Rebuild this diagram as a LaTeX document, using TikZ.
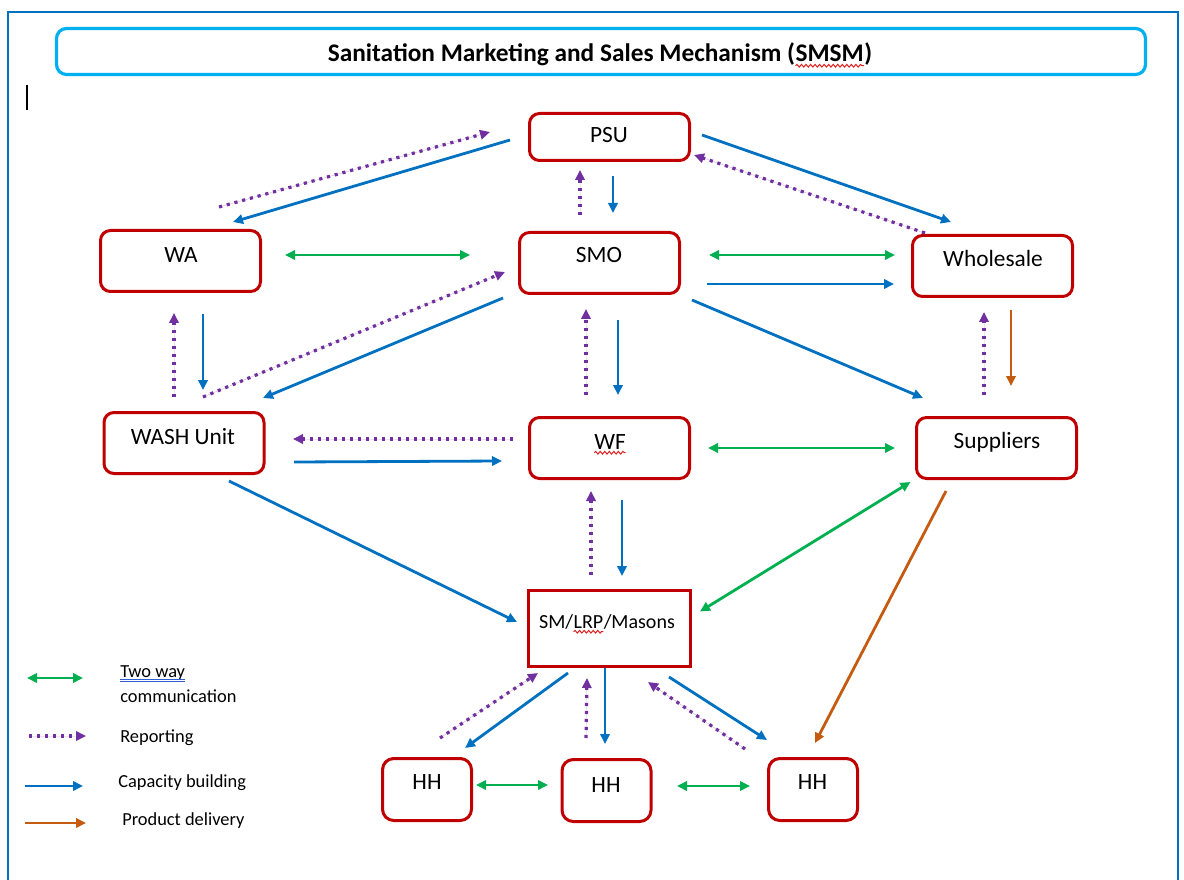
\documentclass[tikz,border=0pt]{standalone}
\usepackage{fontspec}
\setmainfont{Carlito}
\usetikzlibrary{arrows.meta,decorations.pathmorphing}

\definecolor{boxred}{HTML}{C00000}
\definecolor{capblue}{HTML}{0070C0}
\definecolor{reppurple}{HTML}{7030A0}
\definecolor{twgreen}{HTML}{00B050}
\definecolor{delorange}{HTML}{C55A11}
\definecolor{titleblue}{HTML}{00B0F0}
\definecolor{spellred}{HTML}{E02020}
\definecolor{ulblue}{HTML}{3060D0}

% word with a wavy red underline
\newcommand\wavy[1]{\tikz[baseline=(wv.base)]{\node[inner sep=0pt,outer sep=0pt] (wv) {#1};
  \draw[spellred,line width=0.75pt,decorate,decoration={snake,amplitude=1pt,segment length=3.4pt}]
  ([yshift=-2.8pt]wv.base west) -- ([yshift=-2.8pt]wv.base east);}}

\tikzset{
  headtip/.tip={Triangle[length=7.5pt,width=7pt]},
  box/.style={draw=boxred, line width=2.25pt, rounded corners=7.5pt, inner sep=0pt,
    minimum width=120pt, minimum height=45.75pt},
  psubox/.style={box, minimum height=35.25pt},
  smbox/.style={box, sharp corners, minimum width=121.5pt, minimum height=57pt},
  hhbox/.style={box, rounded corners=8.5pt, minimum width=66.75pt, minimum height=46.5pt},
  lbl/.style={anchor=base, inner sep=0pt, font=\fontsize{17.5}{21}\selectfont},
  smlbl/.style={lbl, font=\fontsize{15}{18}\selectfont},
  legtxt/.style={anchor=base west, inner sep=0pt, font=\fontsize{13.8}{16}\selectfont},
  capline/.style={draw=capblue, line width=2.1pt, -headtip, fill=capblue},
  repline/.style={draw=reppurple, line width=2.4pt, dash pattern=on 2.4pt off 3.6pt, -headtip, fill=reppurple},
  twoline/.style={draw=twgreen, line width=2.1pt, headtip-headtip, fill=twgreen},
  delline/.style={draw=delorange, line width=2.1pt, -headtip, fill=delorange},
}

\begin{document}
\begin{tikzpicture}[x=0.75pt,y=-0.75pt]
\useasboundingbox (0,0) rectangle (1184,880);

% page frame and text cursor
\draw[capblue, line width=2.2pt] (8,880) -- (8,12) -- (1178,12) -- (1178,880);
\draw[black, line width=1.1pt] (27,85) -- (27,110);

% title
\node[draw=titleblue, line width=2.4pt, rounded corners=7.5pt, minimum width=816.75pt,
  minimum height=34.5pt, inner sep=0pt] (title) at (601,51.5) {};
\node[anchor=base, inner sep=0pt, font=\fontsize{19}{22}\selectfont\bfseries] (title-t)
  at (600,62) {Sanitation Marketing and Sales Mechanism (\wavy{SMSM})};

% actors
\node[psubox] (psu) at (609.5,137) {};
\node[box] (wa)  at (180.5,261) {};
\node[box] (smo) at (599.5,263) {};
\node[box] (whs) at (992.5,266) {};
\node[box] (wash) at (184,443) {};
\node[box] (wf)  at (609.5,448) {};
\node[box] (sup) at (996.5,448) {};
\node[smbox] (sm) at (609.5,628.5) {};
\node[hhbox] (hh1) at (427,789.5) {};
\node[hhbox] (hh2) at (606.5,790.5) {};
\node[hhbox] (hh3) at (813,789.5) {};

\node[lbl] (psu-t) at (609,143) {PSU};
\node[lbl] (wa-t) at (181,263) {WA};
\node[lbl] (smo-t) at (599,263) {SMO};
\node[lbl] (whs-t) at (993,267) {Wholesale};
\node[lbl] (wash-t) at (183,444) {WASH Unit};
\node[lbl] (wf-t) at (610,449) {\wavy{WF}};
\node[lbl] (sup-t) at (997,448) {Suppliers};
\node[smlbl] (sm-t) at (607,628) {SM/\wavy{LRP}/Masons};
\node[lbl] (hh1-t) at (427,789) {HH};
\node[lbl] (hh2-t) at (606,792) {HH};
\node[lbl] (hh3-t) at (812.5,789) {HH};

% capacity building
\draw[capline] ([shift={(-99.5,3)}]psu.center) -- ([shift={(52.5,-39)}]wa.center);
\draw[capline] ([shift={(3.5,39)}]psu.center) -- ([shift={(13.5,-50)}]smo.center);
\draw[capline] ([shift={(92.5,-2)}]psu.center) -- ([shift={(-41.5,-44)}]whs.center);
\draw[capline] ([shift={(107.5,21)}]smo.center) -- ([shift={(-98.5,18)}]whs.center);
\draw[capline] ([shift={(-96.5,35)}]smo.center) -- ([shift={(79,-45)}]wash.center);
\draw[capline] ([shift={(18.5,57)}]smo.center) -- ([shift={(8.5,-53)}]wf.center);
\draw[capline] ([shift={(92.5,37)}]smo.center) -- ([shift={(-73.5,-50)}]sup.center);
\draw[capline] ([shift={(22.5,53)}]wa.center) -- ([shift={(19,-53)}]wash.center);
\draw[capline] ([shift={(110,19)}]wash.center) -- ([shift={(-107.5,13)}]wf.center);
\draw[capline] ([shift={(45,38)}]wash.center) -- ([shift={(-92.5,-6.5)}]sm.center);
\draw[capline] ([shift={(12.5,52)}]wf.center) -- ([shift={(12.5,-52.5)}]sm.center);
\draw[capline] ([shift={(-41.5,44.5)}]sm.center) -- ([shift={(38,-41.5)}]hh1.center);
\draw[capline] ([shift={(-4.5,39.5)}]sm.center) -- ([shift={(-1.5,-46.5)}]hh2.center);
\draw[capline] ([shift={(59.5,48.5)}]sm.center) -- ([shift={(-46,-49.5)}]hh3.center);

% reporting
\draw[repline] ([shift={(38.5,-54)}]wa.center) -- ([shift={(-119.5,-5)}]psu.center);
\draw[repline] ([shift={(-19.5,-48)}]smo.center) -- ([shift={(-29.5,33)}]psu.center);
\draw[repline] ([shift={(-67.5,-33)}]whs.center) -- ([shift={(84.5,18)}]psu.center);
\draw[repline] ([shift={(-10,-46)}]wash.center) -- ([shift={(-6.5,52)}]wa.center);
\draw[repline] ([shift={(19,-46)}]wash.center) -- ([shift={(-94.5,9)}]smo.center);
\draw[repline] ([shift={(-23.5,-53)}]wf.center) -- ([shift={(-13.5,46)}]smo.center);
\draw[repline] ([shift={(-96.5,-9)}]wf.center) -- ([shift={(109,-4)}]wash.center);
\draw[repline] ([shift={(-12.5,-53)}]sup.center) -- ([shift={(-8.5,46)}]whs.center);
\draw[repline] ([shift={(-18.5,-53.5)}]sm.center) -- ([shift={(-18.5,43)}]wf.center);
\draw[repline] ([shift={(13,-51.5)}]hh1.center) -- ([shift={(-71.5,44.5)}]sm.center);
\draw[repline] ([shift={(-20.5,-52.5)}]hh2.center) -- ([shift={(-22.5,49.5)}]sm.center);
\draw[repline] ([shift={(-68,-40.5)}]hh3.center) -- ([shift={(38.5,53.5)}]sm.center);

% two way communication
\draw[twoline] ([shift={(104.5,-6)}]wa.center) -- ([shift={(-129.5,-8)}]smo.center);
\draw[twoline] ([shift={(109.5,-8)}]smo.center) -- ([shift={(-97.5,-11)}]whs.center);
\draw[twoline] ([shift={(98.5,0)}]wf.center) -- ([shift={(-101.5,0)}]sup.center);
\draw[twoline] ([shift={(-86,34)}]sup.center) -- ([shift={(90.5,-17)}]sm.center);
\draw[twoline] ([shift={(49,-4.5)}]hh1.center) -- ([shift={(-58.5,-5.5)}]hh2.center);
\draw[twoline] ([shift={(70.5,-4.5)}]hh2.center) -- ([shift={(-63,-3.5)}]hh3.center);

% product delivery
\draw[delline] ([shift={(18.5,44)}]whs.center) -- ([shift={(14.5,-62)}]sup.center);
\draw[delline] ([shift={(-50.5,43)}]sup.center) -- ([shift={(2,-46.5)}]hh3.center);

% legend
\coordinate (lg-two-a) at (27,678);  \coordinate (lg-two-b) at (83,678);
\coordinate (lg-rep-a) at (29,736);  \coordinate (lg-rep-b) at (86,736);
\coordinate (lg-cap-a) at (25,786);  \coordinate (lg-cap-b) at (83,786);
\coordinate (lg-del-a) at (25,823);  \coordinate (lg-del-b) at (86,823);
\draw[twoline] (lg-two-a) -- (lg-two-b);
\draw[repline] (lg-rep-a) -- (lg-rep-b);
\draw[capline] (lg-cap-a) -- (lg-cap-b);
\draw[delline] (lg-del-a) -- (lg-del-b);

\node[legtxt] (lg-tw) at (120,677) {Two way};
\node[legtxt] (lg-comm) at (120,702) {communication};
\node[legtxt] (lg-rep-t) at (120,742) {Reporting};
\node[legtxt] (lg-cap-t) at (118,787) {Capacity building};
\node[legtxt] (lg-del-t) at (122,825) {Product delivery};
\draw[ulblue, line width=0.7pt] ([yshift=-1.6pt]lg-tw.base west) -- ([yshift=-1.6pt]lg-tw.base east);
\draw[ulblue, line width=0.7pt] ([yshift=-3.6pt]lg-tw.base west) -- ([yshift=-3.6pt]lg-tw.base east);
\end{tikzpicture}
\end{document}
